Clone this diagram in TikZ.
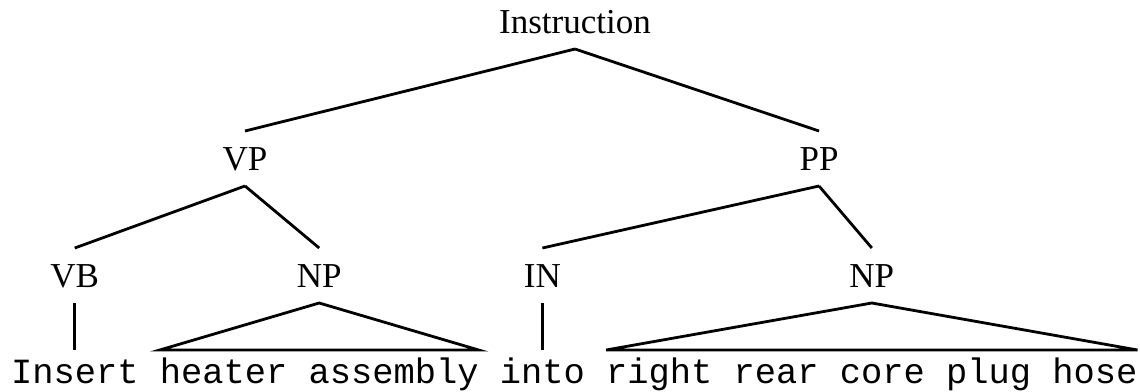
\documentclass[tikz,border=0pt]{standalone}
\usepackage{fontspec}
\setmainfont{Liberation Serif}
\newfontfamily\wordfont{Liberation Mono}
\usetikzlibrary{positioning}

\begin{document}
\begin{tikzpicture}[x=1pt,y=-1pt,line width=2.8pt,
  cat/.style={font=\fontsize{35}{42}\selectfont,inner xsep=0pt,inner ysep=16pt,
    outer sep=0pt,text height=23pt,text depth=0pt},
  word/.style={font=\wordfont\fontsize{35.42}{42}\selectfont,inner xsep=0pt,
    inner ysep=8pt,outer sep=0pt,text height=25pt,text depth=7pt}]
  \useasboundingbox (0,0) rectangle (1140,391);
  % the sentence, one node per leaf group
  \node[word,anchor=base west] (ins) at (11,383) {Insert};
  \node[word,base right=21.25pt of ins] (heat) {heater assembly};
  \node[word,base right=21.25pt of heat] (into) {into};
  \node[word,base right=21.25pt of into] (hose) {right rear core plug hose};
  % preterminals and phrases
  \node[cat,above=47pt of ins] (vb) {VB};
  \node[cat,above=47pt of heat] (np1) {NP};
  \node[cat,above=47pt of into] (prep) {IN};
  \node[cat,above=47pt of hose] (np2) {NP};
  \node[cat,anchor=base] (vp) at (245,170) {VP};
  \node[cat,anchor=base] (pp) at (819,170) {PP};
  \node[cat,anchor=base] (top) at (575,33) {Instruction};
  % branches
  \draw (top.south) -- (vp.north);
  \draw (top.south) -- (pp.north);
  \draw (vp.south) -- (vb.north);
  \draw (vp.south) -- (np1.north);
  \draw (pp.south) -- (prep.north);
  \draw (pp.south) -- (np2.north);
  \draw (vb.south) -- (ins.north);
  \draw (prep.south) -- (into.north);
  \draw (heat.north west) -- (np1.south) -- (heat.north east) -- cycle;
  \draw (hose.north west) -- (np2.south) -- (hose.north east) -- cycle;
\end{tikzpicture}
\end{document}
